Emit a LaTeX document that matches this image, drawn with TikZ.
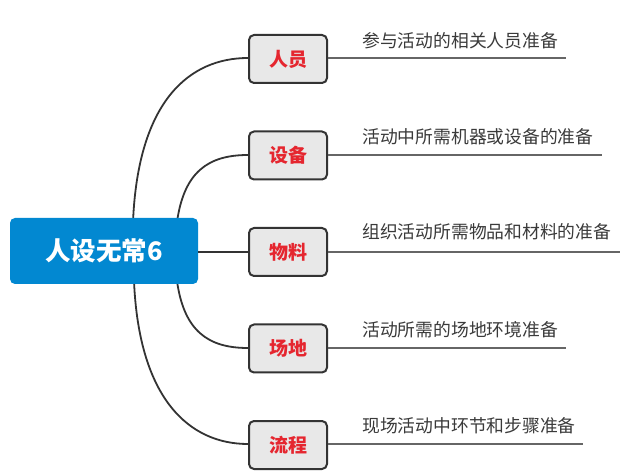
\documentclass[tikz,border=0pt]{standalone}
\usepackage{fontspec}
\setmainfont{Noto Sans CJK SC}
\definecolor{rootblue}{HTML}{0288D1}
\definecolor{boxgray}{HTML}{E8E8E8}
\definecolor{edgegray}{HTML}{333333}
\definecolor{linegray}{HTML}{666666}
\definecolor{labelred}{HTML}{E5262F}
\definecolor{desctext}{HTML}{3A3A3A}
\begin{document}
\begin{tikzpicture}[x=1pt,y=-1pt,
  rootbox/.style={fill=rootblue, rounded corners=5pt, minimum width=188pt, minimum height=66pt, inner sep=0pt, text=white, font=\fontsize{25.5}{30}\selectfont\bfseries},
  branchbox/.style={fill=boxgray, draw=edgegray, line width=2pt, rounded corners=5pt, minimum width=78pt, minimum height=48pt, inner sep=0pt, text=labelred, font=\fontsize{19}{22}\selectfont\bfseries},
  desc/.style={anchor=west, inner sep=0pt, text=desctext, font=\fontsize{17.8}{21}\selectfont},
  conn/.style={draw=edgegray, line width=1.8pt},
  underline/.style={draw=linegray, line width=1.3pt}
]
\useasboundingbox (0,0) rectangle (625,476);

\coordinate (s1) at (133,222);
\coordinate (s2) at (177,222);
\coordinate (s4) at (177,281);
\coordinate (s5) at (134,281);

\node[branchbox] (b1) at (288,59) {人员};
\node[branchbox] (b2) at (288,155.5) {设备};
\node[branchbox] (b3) at (288,252) {物料};
\node[branchbox] (b4) at (288,348.5) {场地};
\node[branchbox] (b5) at (288,445) {流程};

\coordinate (e1) at (566,58);
\coordinate (e2) at (602,155);
\coordinate (e3) at (620,252);
\coordinate (e4) at (566,348);
\coordinate (e5) at (583,444);

\draw[conn] (s1) .. controls (138,100) and (190,58) .. (b1.west |- e1);
\draw[conn] (s2) .. controls (184,172) and (208,155) .. (b2.west |- e2);
\draw[conn] (s4) .. controls (184,331) and (208,348) .. (b4.west |- e4);
\draw[conn] (s5) .. controls (139,400) and (190,444) .. (b5.west |- e5);

\node[rootbox] (root) at (104,251) {人设无常6};
\draw[conn] (root.east |- e3) -- (b3.west |- e3);

\draw[underline] (b1.east |- e1) -- (e1);
\draw[underline] (b2.east |- e2) -- (e2);
\draw[underline] (b3.east |- e3) -- (e3);
\draw[underline] (b4.east |- e4) -- (e4);
\draw[underline] (b5.east |- e5) -- (e5);

\node[desc] (d1) at (362,41) {参与活动的相关人员准备};
\node[desc] (d2) at (362,137) {活动中所需机器或设备的准备};
\node[desc] (d3) at (362,232) {组织活动所需物品和材料的准备};
\node[desc] (d4) at (362,330) {活动所需的场地环境准备};
\node[desc] (d5) at (362,426) {现场活动中环节和步骤准备};
\end{tikzpicture}
\end{document}
